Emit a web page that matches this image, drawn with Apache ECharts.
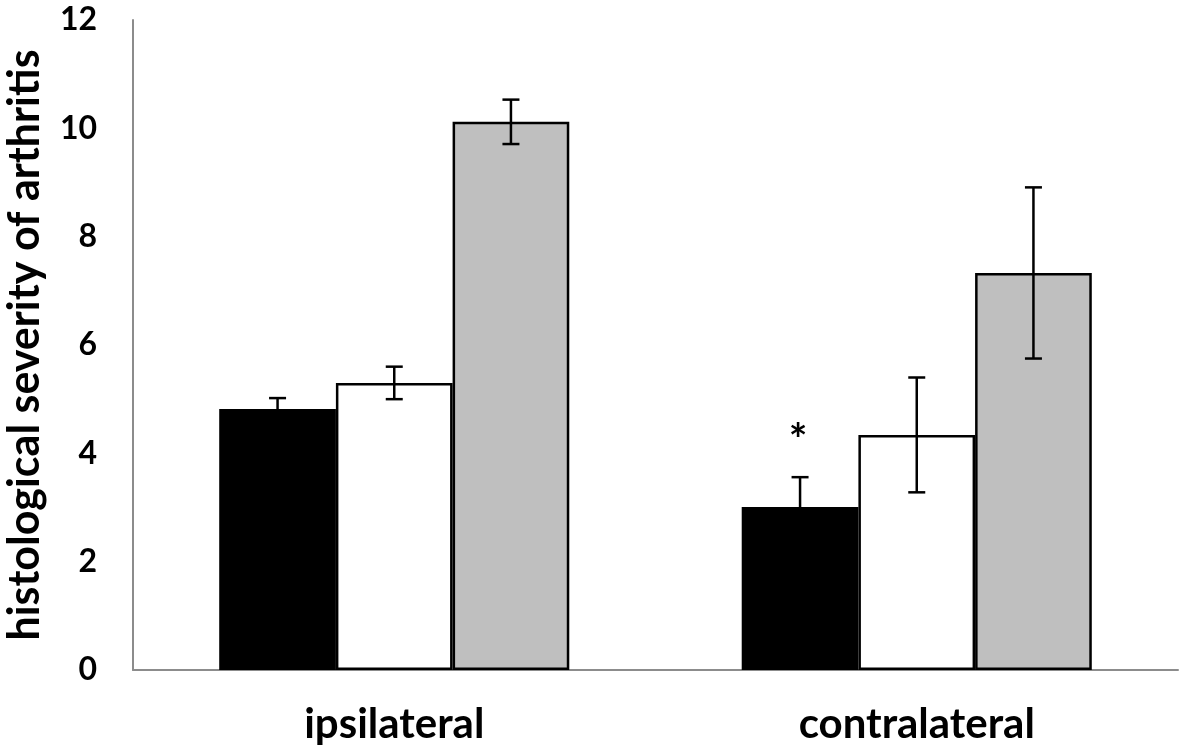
<!DOCTYPE html>
<html>
<head>
<meta charset="utf-8">
<script src="https://cdn.jsdelivr.net/npm/echarts@6/dist/echarts.min.js"></script>
<style>
  html, body { margin: 0; padding: 0; background: #fff; }
  #chart { width: 1181px; height: 755px; }
</style>
</head>
<body>
<div id="chart"></div>
<script>
const categories = ['ipsilateral', 'contralateral']
const blackMeans = [4.82, 3.01]
const blackErrs = [0.2, 0.55]
const whiteMeans = [5.30, 4.34]
const whiteErrs = [0.30, 1.06]
const grayMeans = [10.12, 7.33]
const grayErrs = [0.41, 1.58]
const starMarks = ['', '*']
const yTicks = [0, 2, 4, 6, 8, 10, 12]

const font = 'Lato, "Open Sans", sans-serif'
const gapRatio = 0.33

// error bar rows: [category, bar index, mean, err, star]
const errRows = []
categories.forEach((c, i) => {
  errRows.push([i, 0, blackMeans[i], blackErrs[i], starMarks[i]])
  errRows.push([i, 1, whiteMeans[i], whiteErrs[i], ''])
  errRows.push([i, 2, grayMeans[i], grayErrs[i], ''])
})

const chart = echarts.init(document.getElementById('chart'))

const barStyle = (color) => ({
  color: color,
  borderColor: '#000',
  borderWidth: 2.5
})

const renderErr = (params, api) => {
  const cat = api.value(0)
  const k = api.value(1)
  const mean = api.value(2)
  const err = api.value(3)
  const star = errRows[params.dataIndex][4]
  const band = api.size([1, 0])[0]
  const barW = band * (1 - gapRatio) / 3
  const cx = api.coord([cat, 0])[0] + (k - 1) * barW
  const hi = api.coord([cat, mean + err])[1]
  const lo = api.coord([cat, mean - err])[1]
  const cap = 8.5
  const ls = { stroke: '#000', lineWidth: 2.5 }
  const children = [
    { type: 'line', shape: { x1: cx, y1: hi, x2: cx, y2: lo }, style: ls },
    { type: 'line', shape: { x1: cx - cap, y1: hi, x2: cx + cap, y2: hi }, style: ls },
    { type: 'line', shape: { x1: cx - cap, y1: lo, x2: cx + cap, y2: lo }, style: ls }
  ]
  if (star) {
    children.push({
      type: 'text',
      style: {
        text: star, x: cx - 2, y: hi - 36, align: 'center', verticalAlign: 'middle',
        font: 'bold 44px ' + font, fill: '#000'
      }
    })
  }
  return { type: 'group', children }
}

chart.setOption({
  animation: false,
  grid: { left: 133, right: 3, top: 20, bottom: 85, outerBoundsMode: 'none', containLabel: false },
  xAxis: {
    type: 'category',
    data: categories,
    axisLine: { lineStyle: { color: '#8c8c8c', width: 2 } },
    axisTick: { show: false },
    axisLabel: { color: '#000', fontFamily: font, fontWeight: 'bold', fontSize: 42, margin: 33 }
  },
  yAxis: {
    type: 'value',
    min: 0,
    max: 12,
    interval: 2,
    name: 'histological severity of arthritis',
    nameLocation: 'middle',
    nameRotate: 90,
    nameGap: 86,
    nameTextStyle: { color: '#000', fontFamily: font, fontWeight: 'bold', fontSize: 43 },
    axisLine: { show: true, lineStyle: { color: '#8c8c8c', width: 2 } },
    axisTick: { show: false },
    splitLine: { show: false },
    axisLabel: {
      color: '#000', fontFamily: font, fontWeight: 'bold', fontSize: 32, margin: 36,
      formatter: (v) => yTicks.includes(v) ? String(v) : ''
    }
  },
  series: [
    {
      type: 'bar', data: blackMeans, barGap: '0%', barCategoryGap: (gapRatio * 100) + '%',
      itemStyle: barStyle('#000')
    },
    { type: 'bar', data: whiteMeans, itemStyle: barStyle('#fff') },
    { type: 'bar', data: grayMeans, itemStyle: barStyle('#bfbfbf') },
    {
      type: 'custom',
      data: errRows.map(r => r.slice(0, 4)),
      encode: { x: 0, y: 2 },
      renderItem: renderErr,
      z: 10
    }
  ]
})
</script>
</body>
</html>
